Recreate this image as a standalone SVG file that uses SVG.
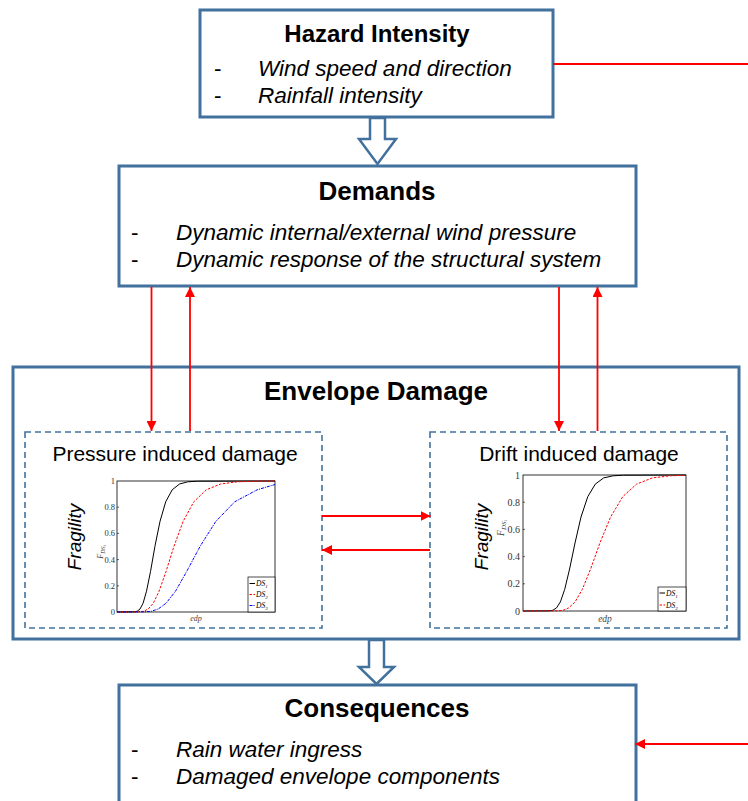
<svg xmlns="http://www.w3.org/2000/svg" width="748" height="801" viewBox="0 0 748 801">
<style>
.box{fill:#fff;stroke:#41719C;stroke-width:3}
.dbox{fill:#fff;stroke:#41719C;stroke-width:1.6;stroke-dasharray:6 4}
.blk{fill:#fff;stroke:#41719C;stroke-width:2.5;stroke-linejoin:miter}
.red{fill:none;stroke:#FF0000;stroke-width:1.8}
.h{font-family:"Liberation Sans",Arial,sans-serif;font-weight:bold;font-size:24px;text-anchor:middle;fill:#000}
.b{font-family:"Liberation Sans",Arial,sans-serif;font-style:italic;font-size:22.5px;fill:#000}
.d{font-family:"Liberation Sans",Arial,sans-serif;font-size:22.5px;fill:#000}
.sub{font-family:"Liberation Sans",Arial,sans-serif;font-size:21px;text-anchor:middle;fill:#000}
.frag{font-family:"Liberation Sans",Arial,sans-serif;font-style:italic;font-size:19px;text-anchor:middle;fill:#000}
.ax{fill:#fff;stroke:#000;stroke-width:0.8}
.tk{font-family:"Liberation Serif","Times New Roman",serif;font-size:8.5px;fill:#333;text-anchor:end}
.tk2{font-family:"Liberation Serif","Times New Roman",serif;font-size:10px;fill:#333;text-anchor:end}
.lab{font-family:"Liberation Serif","Times New Roman",serif;font-style:italic;font-size:8px;fill:#444;text-anchor:middle}
.lg{font-family:"Liberation Serif","Times New Roman",serif;font-style:italic;font-size:7.5px;fill:#000}
.c1{fill:none;stroke:#000;stroke-width:1}
.c2{fill:none;stroke:#FF0000;stroke-width:1;stroke-dasharray:2.5 1.5}
.c3{fill:none;stroke:#0000FF;stroke-width:1;stroke-dasharray:3 1 1 1}
.tick{stroke:#000;stroke-width:0.6}
</style>
<defs>
<marker id="ah" markerUnits="userSpaceOnUse" markerWidth="10" markerHeight="10" refX="10" refY="5" orient="auto">
<path d="M0,0 L10,5 L0,10 z" fill="#FF0000"/>
</marker>
</defs>

<g id="hazard">
<rect class="box" x="200" y="10" width="353" height="107"/>
<text class="h" x="377" y="42">Hazard Intensity</text>
<text class="d" x="214" y="76">-</text>
<text class="b" x="258" y="76">Wind speed and direction</text>
<text class="d" x="214" y="103">-</text>
<text class="b" x="258" y="103">Rainfall intensity</text>
</g>

<g id="demands">
<rect class="box" x="119" y="166" width="517" height="120"/>
<text class="h" x="377" y="200" style="font-size:26px">Demands</text>
<text class="d" x="131" y="240">-</text>
<text class="b" x="176" y="240">Dynamic internal/external wind pressure</text>
<text class="d" x="131" y="267">-</text>
<text class="b" x="176" y="267">Dynamic response of the structural system</text>
</g>

<g id="envelope">
<rect class="box" x="13" y="367" width="726" height="272"/>
<text class="h" x="376" y="400" style="font-size:26px">Envelope Damage</text>
</g>

<g id="pressure">
<rect class="dbox" x="25" y="432" width="297" height="196"/>
<text class="sub" x="175" y="461">Pressure induced damage</text>
<text class="frag" transform="translate(81,537) rotate(-90)">Fragility</text>
<rect class="ax" x="117" y="481" width="158" height="131"/>
<g class="tick">
<line x1="117" y1="585.8" x2="119" y2="585.8"/><line x1="117" y1="559.6" x2="119" y2="559.6"/><line x1="117" y1="533.4" x2="119" y2="533.4"/><line x1="117" y1="507.2" x2="119" y2="507.2"/>
</g>
<text class="tk" x="115" y="615">0</text>
<text class="tk" x="115" y="588.8">0.2</text>
<text class="tk" x="115" y="562.6">0.4</text>
<text class="tk" x="115" y="536.4">0.6</text>
<text class="tk" x="115" y="510.2">0.8</text>
<text class="tk" x="115" y="484">1</text>
<text class="lab" transform="translate(103,552) rotate(-90)">F<tspan font-size="6" dy="1.5">DS</tspan><tspan font-size="4.5" dy="1">i</tspan></text>
<text class="lab" x="196" y="621">edp</text>
<polyline class="c1" points="117,612 134.9,611.8 137.3,611.2 140.0,609.0 143.1,603.2 146.5,591.2 150.5,571.6 154.9,546.5 160.0,521.4 165.7,501.8 172.2,489.8 179.5,484.0 187.8,481.8 197.3,481.2 275,481"/>
<polyline class="c2" points="117,612 140.1,611.8 143.9,611.2 148.2,609.0 153.3,603.2 159.1,591.2 166.0,571.6 173.9,546.5 183.1,521.4 193.8,501.8 206.2,489.8 220.6,484.0 237.4,481.8 256.9,481.2 275,481"/>
<polyline class="c3" points="117,612 146.0,611.8 151.6,611.2 158.2,609.0 166.1,603.2 175.5,591.2 186.6,571.6 200.0,546.5 215.8,521.4 234.7,501.8 257.2,489.8 275,484.5"/>
<rect x="248" y="577" width="27" height="35" fill="#fff" stroke="#000" stroke-width="0.7"/>
<line class="c1" x1="249.5" y1="583.5" x2="255" y2="583.5"/>
<line class="c2" x1="249.5" y1="594.5" x2="255" y2="594.5"/>
<line class="c3" x1="249.5" y1="605.5" x2="255" y2="605.5"/>
<text class="lg" x="256" y="586">DS<tspan font-size="5" dy="1.5">1</tspan></text>
<text class="lg" x="256" y="597">DS<tspan font-size="5" dy="1.5">2</tspan></text>
<text class="lg" x="256" y="608">DS<tspan font-size="5" dy="1.5">3</tspan></text>
</g>

<g id="drift">
<rect class="dbox" x="430" y="432" width="297" height="196"/>
<text class="sub" x="579" y="461">Drift induced damage</text>
<text class="frag" transform="translate(488,537) rotate(-90)">Fragility</text>
<rect class="ax" x="523" y="475" width="163" height="136"/>
<g class="tick">
<line x1="523" y1="583.8" x2="525" y2="583.8"/><line x1="523" y1="556.6" x2="525" y2="556.6"/><line x1="523" y1="529.4" x2="525" y2="529.4"/><line x1="523" y1="502.2" x2="525" y2="502.2"/>
</g>
<text class="tk2" x="520" y="614.5">0</text>
<text class="tk2" x="520" y="587.3">0.2</text>
<text class="tk2" x="520" y="560.1">0.4</text>
<text class="tk2" x="520" y="532.9">0.6</text>
<text class="tk2" x="520" y="505.7">0.8</text>
<text class="tk2" x="520" y="478.5">1</text>
<text class="lab" transform="translate(504,528) rotate(-90)" style="font-size:9.5px">F<tspan font-size="7" dy="1.5">DS</tspan><tspan font-size="5" dy="1">i</tspan></text>
<text class="lab" x="605" y="622" style="font-size:9.5px">edp</text>
<polyline class="c1" points="523,611 549.9,610.8 553.0,610.2 556.5,607.9 560.4,601.9 564.7,589.4 569.6,569.0 575.0,543.0 581.0,517.0 587.8,496.6 595.3,484.1 603.7,477.9 613.1,475.8 623.6,475.2 686,475"/>
<polyline class="c2" points="523,611 558.3,610.8 563.2,610.2 568.7,607.9 575.1,601.9 582.3,589.4 590.6,569.0 599.9,543.0 610.6,517.0 622.8,496.6 636.6,484.1 652.4,477.9 670.4,475.8 686,475.3"/>
<rect x="658" y="587" width="28" height="24" fill="#fff" stroke="#000" stroke-width="0.7"/>
<line class="c1" x1="659.5" y1="593" x2="665" y2="593"/>
<line class="c2" x1="659.5" y1="605" x2="665" y2="605"/>
<text class="lg" x="666" y="596">DS<tspan font-size="5" dy="1.5">1</tspan></text>
<text class="lg" x="666" y="608">DS<tspan font-size="5" dy="1.5">2</tspan></text>
</g>

<g id="consequences">
<rect class="box" x="119" y="685" width="517" height="130"/>
<text class="h" x="377" y="717" style="font-size:26px">Consequences</text>
<text class="d" x="131" y="757">-</text>
<text class="b" x="176" y="757">Rain water ingress</text>
<text class="d" x="131" y="784">-</text>
<text class="b" x="176" y="784">Damaged envelope components</text>
</g>

<g id="connectors">
<path class="blk" d="M370,118 L385,118 L385,139 L396,139 L377.5,164 L359,139 L370,139 Z"/>
<path class="blk" d="M369,640 L384,640 L384,667 L394,667 L376.5,684 L359,667 L369,667 Z"/>
<line class="red" x1="151.5" y1="287" x2="151.5" y2="431" marker-end="url(#ah)"/>
<line class="red" x1="190" y1="431" x2="190" y2="287" marker-end="url(#ah)"/>
<line class="red" x1="559" y1="287" x2="559" y2="431" marker-end="url(#ah)"/>
<line class="red" x1="597.5" y1="431" x2="597.5" y2="287" marker-end="url(#ah)"/>
<line class="red" x1="322" y1="516" x2="430.5" y2="516" marker-end="url(#ah)"/>
<line class="red" x1="430" y1="550" x2="322" y2="550" marker-end="url(#ah)"/>
<line class="red" x1="553" y1="64" x2="748" y2="64"/>
<line class="red" x1="748" y1="744" x2="635" y2="744" marker-end="url(#ah)"/>
</g>
</svg>
